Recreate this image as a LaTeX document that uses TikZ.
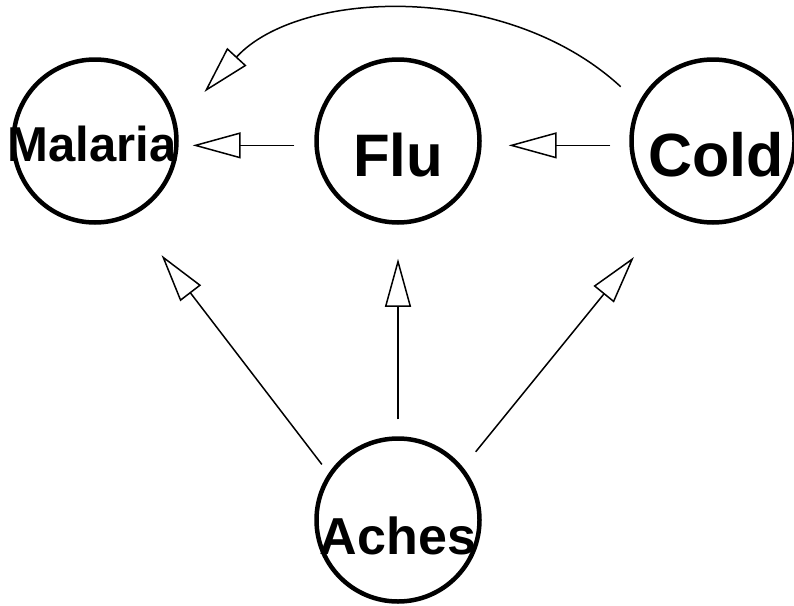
\documentclass[tikz,border=0pt]{standalone}
\usepackage{fontspec}
\setsansfont{Liberation Sans}
\usepackage{tikz}
\usetikzlibrary{arrows.meta}

\begin{document}
\begin{tikzpicture}[x=1pt,y=-1pt]
\tikzstyle{every node}+=[inner sep=0pt]
\tikzstyle{disease}=[draw=black,circle,line width=4.5pt,minimum size=163pt]
\tikzstyle{illtext}=[font=\sffamily\bfseries]
\tikzstyle{cause}=[draw=black,line width=1.5pt,-{Triangle[open,length=48pt,width=26pt]}]
\useasboundingbox (0,0) rectangle (794,605);
\node [disease,label={[illtext,xshift=-3pt,yshift=-3pt]center:\fontsize{49}{49}\selectfont Malaria}] (malaria) at (95,141) {};
\node [disease,label={[illtext,yshift=-14pt]center:\fontsize{60}{60}\selectfont Flu}] (flu) at (398,141) {};
\node [disease,label={[illtext,xshift=3pt,yshift=-14pt]center:\fontsize{61}{61}\selectfont Cold}] (cold) at (713,141) {};
\node [disease,label={[illtext,yshift=-16pt]center:\fontsize{52}{52}\selectfont Aches}] (aches) at (398,520) {};
\draw [cause,shorten <=20pt,shorten >=14pt] (flu.183) -- (malaria.-3);
\draw [cause,shorten <=19pt,shorten >=27pt] (cold.183) -- (flu.-3);
\draw [cause,shorten <=17pt,shorten >=34pt] (aches.north) -- (flu.south);
\draw [cause,shorten <=11pt,shorten >=49pt] (aches.146) -- (malaria.-64);
\draw [cause,shorten <=20pt,shorten >=57pt] (aches.39) -- (cold.-121);
\draw [cause,shorten <=24pt,shorten >=41pt] (cold.153) to[bend right=45] (malaria.13);
\end{tikzpicture}
\end{document}
